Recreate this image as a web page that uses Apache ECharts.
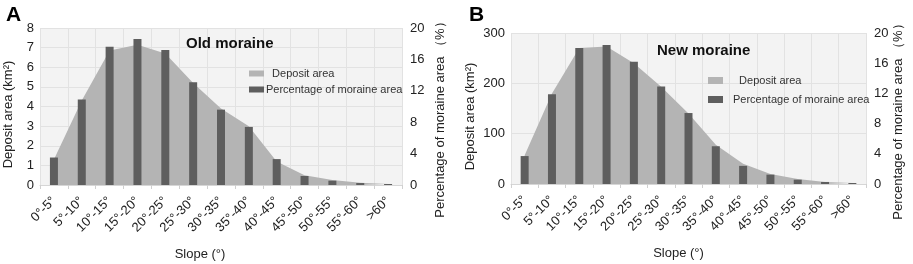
<!DOCTYPE html>
<html>
<head>
<meta charset="utf-8">
<style>
  html, body { margin: 0; padding: 0; background: #fff; }
  #main { width: 913px; height: 264px; }
</style>
<script src="https://cdn.jsdelivr.net/npm/echarts@6/dist/echarts.min.js"></script>
</head>
<body>
<div id="main"></div>
<script>
  // 数据
  var slopes = ['0°-5°', '5°-10°', '10°-15°', '15°-20°', '20°-25°', '25°-30°', '30°-35°',
    '35°-40°', '40°-45°', '45°-50°', '50°-55°', '55°-60°', '>60°'];

  // Old moraine (A)
  var oldArea = [1.3, 4.3, 6.85, 7.15, 6.7, 5.2, 3.9, 3.0, 1.2, 0.5, 0.25, 0.12, 0.05];   // km2
  var oldPct = [3.5, 10.9, 17.6, 18.6, 17.2, 13.1, 9.6, 7.4, 3.3, 1.15, 0.55, 0.25, 0.13]; // %

  // New moraine (B)
  var newArea = [57, 180, 270, 273, 240, 193, 140, 78, 40, 20, 10, 4, 2];
  var newPct = [3.7, 11.9, 18.0, 18.4, 16.2, 12.9, 9.4, 5.0, 2.4, 1.24, 0.57, 0.27, 0.13];

  var font = 'Liberation Sans, Arial, sans-serif';
  var areaColor = '#b4b4b4';
  var barColor = '#5e5e5e';

  var chart = echarts.init(document.getElementById('main'));

  function xAxisOf(gridIndex, namePad) {
    return {
      type: 'category',
      gridIndex: gridIndex,
      data: slopes,
      boundaryGap: true,
      name: 'Slope (°)',
      nameLocation: 'middle',
      nameGap: 63,
      nameTextStyle: { fontFamily: font, fontSize: 13, color: '#222', padding: namePad },
      axisLine: { show: true, lineStyle: { color: '#d6d6d6' } },
      axisTick: { show: true, length: 4, lineStyle: { color: '#d0d0d0' } },
      axisLabel: { rotate: 45, fontFamily: font, fontSize: 13, color: '#222', margin: 14 },
      splitLine: { show: true, lineStyle: { color: '#e2e2e2' } }
    };
  }

  function leftAxisOf(gridIndex, max, interval, gap) {
    return {
      type: 'value',
      gridIndex: gridIndex,
      min: 0,
      max: max,
      interval: interval,
      name: 'Deposit area (km²)',
      nameLocation: 'middle',
      nameGap: gap,
      nameTextStyle: { fontFamily: font, fontSize: 13, color: '#222', padding: [0, 16, 0, 0] },
      axisLine: { show: false },
      axisTick: { show: false },
      axisLabel: { fontFamily: font, fontSize: 13, color: '#222', margin: 6 },
      splitLine: { show: true, lineStyle: { color: '#e2e2e2' } }
    };
  }

  function rightAxisOf(gridIndex, gap) {
    return {
      type: 'value',
      gridIndex: gridIndex,
      position: 'right',
      min: 0,
      max: 20,
      interval: 4,
      name: 'Percentage of moraine area （%）',
      nameLocation: 'middle',
      nameGap: gap,
      nameTextStyle: { fontFamily: font, fontSize: 13, color: '#222', padding: [0, 20, 0, 0] },
      axisLine: { show: false },
      axisTick: { show: false },
      axisLabel: { fontFamily: font, fontSize: 13, color: '#222', margin: 8 },
      splitLine: { show: false }
    };
  }

  var option = {
    animation: false,
    textStyle: { fontFamily: font },
    title: [
      { text: 'A', left: 1, top: 0, textStyle: { fontFamily: font, fontSize: 21, fontWeight: 'bold', color: '#000' } },
      { text: 'B', left: 464, top: 0, textStyle: { fontFamily: font, fontSize: 21, fontWeight: 'bold', color: '#000' } },
      { text: 'Old moraine', left: 181, top: 31, textStyle: { fontFamily: font, fontSize: 15, fontWeight: 'bold', color: '#111' } },
      { text: 'New moraine', left: 652, top: 38, textStyle: { fontFamily: font, fontSize: 15, fontWeight: 'bold', color: '#111' } }
    ],
    legend: [
      {
        orient: 'vertical',
        left: 244,
        top: 63,
        itemWidth: 15,
        itemHeight: 6,
        itemGap: 5,
        icon: 'rect',
        textStyle: { fontFamily: font, fontSize: 11, color: '#333', padding: [0, 0, 0, -3] },
        formatter: function (name) {
          return name === 'Deposit area' ? '  ' + name : name;
        },
        data: ['Deposit area', 'Percentage of moraine area']
      },
      {
        orient: 'vertical',
        left: 703,
        top: 70,
        itemWidth: 15,
        itemHeight: 7,
        itemGap: 8,
        icon: 'rect',
        textStyle: { fontFamily: font, fontSize: 11, color: '#333', padding: [0, 0, 0, 5] },
        formatter: function (name) {
          return name === 'Deposit area ' ? '  ' + name : name;
        },
        data: ['Deposit area ', 'Percentage of moraine area ']
      }
    ],
    grid: [
      { left: 40, right: 511, top: 28, bottom: 79, outerBoundsMode: 'none', containLabel: false,
        show: true, backgroundColor: '#f3f3f3', borderWidth: 0 },
      { left: 511, right: 47, top: 33, bottom: 80, outerBoundsMode: 'none', containLabel: false,
        show: true, backgroundColor: '#f3f3f3', borderWidth: 0 }
    ],
    xAxis: [xAxisOf(0, [0, 42, 0, 0]), xAxisOf(1, [0, 20, 0, 0])],
    yAxis: [
      leftAxisOf(0, 8, 1, 25),
      rightAxisOf(0, 32),
      leftAxisOf(1, 300, 100, 34),
      rightAxisOf(1, 26)
    ],
    series: [
      {
        name: 'Deposit area',
        type: 'line',
        xAxisIndex: 0,
        yAxisIndex: 0,
        z: 1,
        data: oldArea,
        symbol: 'none',
        lineStyle: { width: 0 },
        itemStyle: { color: areaColor },
        areaStyle: { color: areaColor, opacity: 1 }
      },
      {
        name: 'Percentage of moraine area',
        type: 'bar',
        xAxisIndex: 0,
        yAxisIndex: 1,
        z: 5,
        data: oldPct,
        barWidth: 8,
        itemStyle: { color: barColor }
      },
      {
        name: 'Deposit area ',
        type: 'line',
        xAxisIndex: 1,
        yAxisIndex: 2,
        z: 1,
        data: newArea,
        symbol: 'none',
        lineStyle: { width: 0 },
        itemStyle: { color: areaColor },
        areaStyle: { color: areaColor, opacity: 1 }
      },
      {
        name: 'Percentage of moraine area ',
        type: 'bar',
        xAxisIndex: 1,
        yAxisIndex: 3,
        z: 5,
        data: newPct,
        barWidth: 8,
        itemStyle: { color: barColor }
      }
    ]
  };

  chart.setOption(option);
</script>
</body>
</html>
